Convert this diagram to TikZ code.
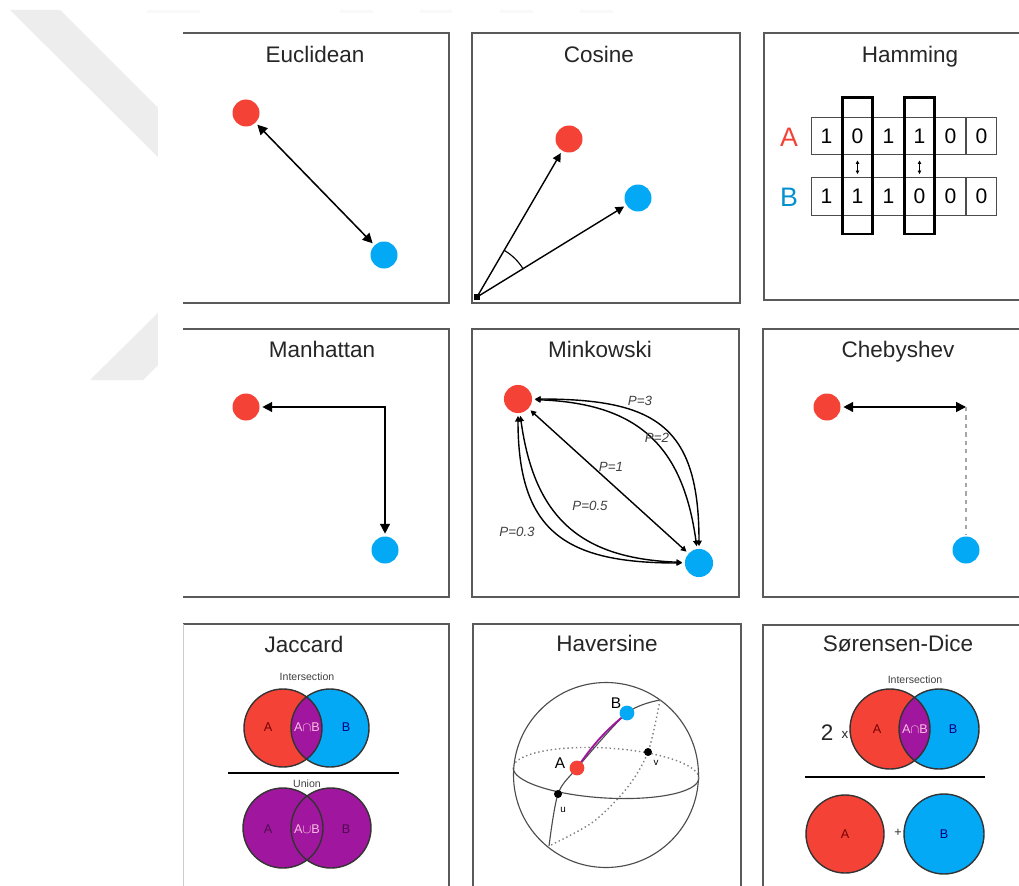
\documentclass[tikz,border=0pt]{standalone}
\usepackage{fontspec}
\setmainfont{Liberation Sans}
\usetikzlibrary{arrows.meta}
\usetikzlibrary{calc}

\definecolor{dotred}{HTML}{F44336}
\definecolor{dotblue}{HTML}{03A9F4}
\definecolor{setpurple}{HTML}{A0169E}
\definecolor{boxgray}{HTML}{5A5A5A}
\definecolor{wmgray}{HTML}{EDEDED}

\begin{document}
\begin{tikzpicture}[x=0.025cm, y=0.025cm,
    panel/.style={draw=boxgray, line width=1.3pt},
    heading/.style={anchor=base, text=black!85, font=\fontsize{16}{19}\selectfont},
    ptA/.style={circle, fill=dotred, inner sep=0pt, minimum size=19.2pt, outer sep=2pt},
    ptB/.style={ptA, fill=dotblue},
    both/.style={{Triangle[length=7pt,width=7pt]}-{Triangle[length=7pt,width=7pt]}, line width=1.1pt},
    one/.style={-{Triangle[length=6pt,width=6pt]}, line width=1pt},
    mk/.style={{Triangle[length=4pt,width=4pt]}-{Triangle[length=4pt,width=4pt]}, line width=1pt},
    plabel/.style={font=\fontsize{9.5}{11}\selectfont\itshape, text=black!75},
    cell/.style={draw=black!70, line width=0.7pt, minimum width=22pt, minimum height=27pt, inner sep=0pt, font=\fontsize{15}{17}\selectfont},
    pick/.style={draw, line width=2pt},
    venn/.style={draw=black!80, line width=1pt},
    note/.style={font=\fontsize{7.5}{9}\selectfont, text=black!75},
    setlbl/.style={font=\fontsize{9}{10}\selectfont},
    sphline/.style={draw=black!70, line width=0.8pt},
    backline/.style={draw=black!50, line width=1pt, dotted},
    bdot/.style={circle, fill=black, inner sep=0pt, minimum size=5.7pt}]

    % page, faint marks on the left
    \useasboundingbox (0,0) rectangle (1019,-886);
    \clip (0,0) rectangle (1019,-886);
    \fill[white] (0,0) rectangle (1019,-886);
    \fill[wmgray] (10,-10) -- (60,-10) -- (158,-108) -- (158,-157) -- cycle;
    \fill[wmgray] (90,-380) -- (143,-380) -- (158,-365) -- (158,-313) -- cycle;
    \foreach \a/\b in {147/200, 340/373, 420/452, 500/533, 580/613}
        \fill[black!2.5] (\a,-10) rectangle (\b,-13);
    \fill[white] (158,-13) rectangle (1019,-886);

    % frames
    \draw[panel] (183,-33) -- (449,-33) -- (449,-303) -- (183,-303);
    \draw[panel] (472,-33) rectangle (740,-303);
    \draw[panel] (1030,-33) -- (764,-33) -- (764,-300) -- (1030,-300);
    \draw[panel] (183,-329) -- (449,-329) -- (449,-597) -- (183,-597);
    \draw[panel] (472,-329) rectangle (739,-597);
    \draw[panel] (1030,-329) -- (763,-329) -- (763,-597) -- (1030,-597);
    \draw[panel] (183,-624) -- (449,-624) -- (449,-890);
    \draw[black!20] (183,-624) -- (183,-890);
    \draw[panel] (473,-890) -- (473,-624) -- (741,-624) -- (741,-890);
    \draw[panel] (763,-890) -- (763,-625) -- (1030,-625);

    \node[heading] (tEuc) at (315,-63) {Euclidean};
    \node[heading] (tCos) at (599,-63) {Cosine};
    \node[heading] (tHam) at (910,-63) {Hamming};
    \node[heading] (tMan) at (322,-357) {Manhattan};
    \node[heading] (tMin) at (600,-357) {Minkowski};
    \node[heading] (tChe) at (898,-357) {Chebyshev};
    \node[heading] (tJac) at (304,-652) {Jaccard};
    \node[heading] (tHav) at (607,-651) {Haversine};
    \node[heading] (tSor) at (898,-651) {Sørensen-Dice};

    % Euclidean
    \node[ptA] (euA) at (246,-113) {};
    \node[ptB] (euB) at (384,-255) {};
    \draw[both] (euA) -- (euB);

    % Cosine
    \node[fill=black, inner sep=0pt, minimum size=4.5pt] (coO) at (477,-297) {};
    \node[ptA] (coA) at (569,-139) {};
    \node[ptB] (coB) at (638,-198) {};
    \draw[one] (coO.center) -- (coA);
    \draw[one] (coO.center) -- (coB);
    \draw[line width=0.8pt] ($(coO.center)+(31:54)$) arc[start angle=31, end angle=59.4, radius=54];

    % Hamming
    \foreach \d [count=\i] in {1,0,1,1,0,0}
        \node[cell] (hA\i) at ({795.5+31*\i},-136) {\d};
    \foreach \d [count=\i] in {1,1,1,0,0,0}
        \node[cell] (hB\i) at ({795.5+31*\i},-196.5) {\d};
    \node[text=dotred, font=\fontsize{19}{21}\selectfont] (hLa) at (789,-137) {A};
    \node[text=dotblue!85!black, font=\fontsize{19}{21}\selectfont] (hLb) at (789,-197) {B};
    \foreach \i in {2,4} {
        \draw[pick] ($(hA\i.north west)+(1,19)$) rectangle ($(hB\i.south east)+(-1,-18)$);
        \draw[{Triangle[length=2.5pt,width=2.5pt]}-{Triangle[length=2.5pt,width=2.5pt]}, line width=0.6pt]
            ($(hA\i.south)+(0,-5)$) -- ($(hB\i.north)+(0,3)$);
    }

    % Manhattan
    \node[ptA] (maA) at (246,-407) {};
    \node[ptB] (maB) at (385,-550) {};
    \draw[both] (maA) -| (maB);

    % Minkowski
    \node[ptA, minimum size=20pt] (miA) at (518,-399) {};
    \node[ptB, minimum size=20pt] (miB) at (699,-563) {};
    \draw[mk] (miA) to[out=0, in=90, looseness=1.4] (miB);
    \draw[mk] (miA) to[bend left=40, looseness=1.2] (miB);
    \draw[mk] (miA) -- (miB);
    \draw[mk] (miA) to[bend right=40, looseness=1.2] (miB);
    \draw[mk] (miA) to[out=-90, in=180, looseness=1.35] (miB);
    \node[plabel] (p3) at (640,-401) {P=3};
    \node[plabel] (p2) at (657,-438) {P=2};
    \node[plabel] (p1) at (611,-467) {P=1};
    \node[plabel] (p05) at (590,-506) {P=0.5};
    \node[plabel] (p03) at (517,-532) {P=0.3};

    % Chebyshev
    \node[ptA] (chA) at (827,-407) {};
    \node[ptB] (chB) at (966,-550) {};
    \coordinate (chC) at (966,-407);
    \draw[both] (chA) -- (chC);
    \draw[black!35, dashed, line width=0.8pt] (chC) -- (chB);

    % Jaccard
    \node[note] (jaI) at (307,-677) {Intersection};
    \fill[dotred] (283,-728) circle[radius=39];
    \fill[dotblue] (330,-728) circle[radius=39];
    \begin{scope}
        \clip (283,-728) circle[radius=39];
        \fill[setpurple] (330,-728) circle[radius=39];
    \end{scope}
    \draw[venn] (283,-728) circle[radius=39];
    \draw[venn] (330,-728) circle[radius=39];
    \node[setlbl, text=red!45!black] (jaA) at (268,-727) {A};
    \node[setlbl, text=magenta!25] (jaAB) at (307,-727) {A$\cap$B};
    \node[setlbl, text=blue!50!black] (jaB) at (346,-727) {B};
    \draw[line width=1.4pt] (228,-773) -- (399,-773);
    \node[note] (jaU) at (307,-784) {Union};
    \fill[setpurple] (283,-828) circle[radius=40];
    \fill[setpurple] (331,-828) circle[radius=40];
    \draw[venn] (283,-828) circle[radius=40];
    \draw[venn] (331,-828) circle[radius=40];
    \node[setlbl, text=setpurple!50!black] (juA) at (268,-829) {A};
    \node[setlbl, text=magenta!25] (juAB) at (307,-829) {A$\cup$B};
    \node[setlbl, text=setpurple!50!black] (juB) at (346,-829) {B};

    % Haversine
    \coordinate (hvO) at (606,-775);
    \coordinate (hvP) at (549,-846);
    \coordinate (hvQ) at (660,-700);
    \coordinate (uPt) at (558,-794);
    \coordinate (vPt) at (648,-752);
    \coordinate (aPt) at (577,-768);
    \coordinate (bPt) at (627,-713);
    \draw[sphline] (hvO) circle[radius=92.5];
    \draw[sphline, rotate around={-3.4:(606,-773)}] (513,-773) arc[start angle=180, end angle=360, x radius=93, y radius=25];
    \draw[backline, rotate around={-3.4:(606,-773)}] (699,-773) arc[start angle=0, end angle=180, x radius=93, y radius=25];
    \draw[sphline] plot[smooth] coordinates {(hvP) (uPt) (aPt) (bPt) (hvQ)};
    \draw[backline] plot[smooth] coordinates {(hvQ) (vPt) (627,-788) (593,-822) (hvP)};
    \draw[setpurple, line width=1.3pt] (aPt) to[bend left=8] (bPt);
    \node[bdot] (hvU) at (uPt) {};
    \node[bdot] (hvV) at (vPt) {};
    \node[ptA, minimum size=10.5pt, outer sep=0pt] (hvA) at (aPt) {};
    \node[ptB, minimum size=10.5pt, outer sep=0pt] (hvB) at (bPt) {};
    \node[font=\fontsize{11}{12}\selectfont] (hvLa) at (560,-763) {A};
    \node[font=\fontsize{11}{12}\selectfont] (hvLb) at (616,-703) {B};
    \node[font=\fontsize{7}{8}\selectfont] (hvLu) at (563,-810) {u};
    \node[font=\fontsize{7}{8}\selectfont] (hvLv) at (656,-763) {v};

    % Sorensen-Dice
    \node[note] (sdI) at (915,-680) {Intersection};
    \node[anchor=base, font=\fontsize{16}{18}\selectfont, text=black!85] (sdTwo) at (827,-740) {2};
    \node[anchor=base, font=\fontsize{9.5}{10}\selectfont, text=black!85] (sdX) at (845,-738) {x};
    \fill[dotred] (890,-729) circle[radius=40];
    \fill[dotblue] (939,-729) circle[radius=40];
    \begin{scope}
        \clip (890,-729) circle[radius=40];
        \fill[setpurple] (939,-729) circle[radius=40];
    \end{scope}
    \draw[venn] (890,-729) circle[radius=40];
    \draw[venn] (939,-729) circle[radius=40];
    \node[setlbl, text=red!45!black] (sdA) at (877,-729) {A};
    \node[setlbl, text=magenta!25] (sdAB) at (915,-729) {A$\cap$B};
    \node[setlbl, text=blue!50!black] (sdB) at (953,-729) {B};
    \draw[line width=1.4pt] (805,-777) -- (985,-777);
    \fill[dotred] (845,-834) circle[radius=39];
    \draw[venn] (845,-834) circle[radius=39];
    \fill[dotblue] (944,-834) circle[radius=40];
    \draw[venn] (944,-834) circle[radius=40];
    \node[setlbl, text=red!45!black] (sdA2) at (845,-834) {A};
    \node[setlbl, text=black!80] (sdPlus) at (898,-833) {+};
    \node[setlbl, text=blue!50!black] (sdB2) at (944,-834) {B};
\end{tikzpicture}
\end{document}
